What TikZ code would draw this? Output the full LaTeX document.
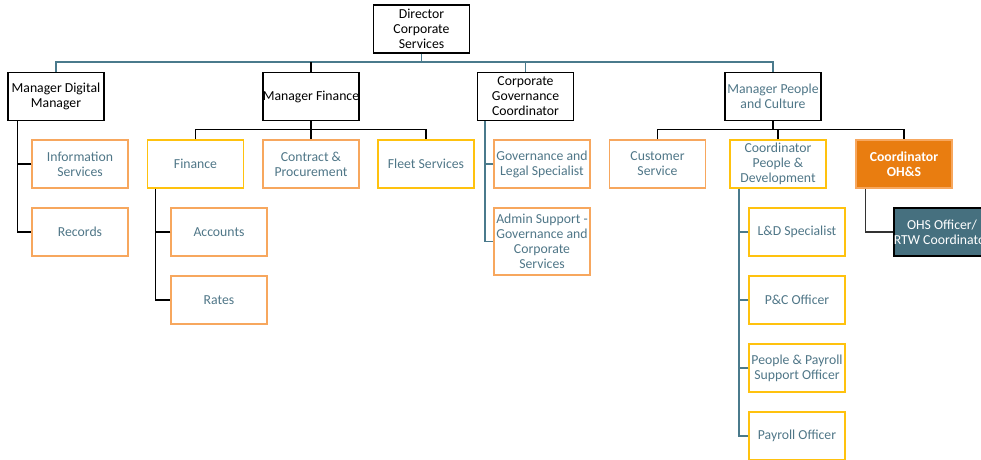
\documentclass[tikz,border=0pt]{standalone}
\usepackage{fontspec}
\setmainfont{Carlito}
\usetikzlibrary{calc}
\definecolor{tealline}{HTML}{4A7A8C}
\definecolor{tealtext}{HTML}{4F7687}
\definecolor{obord}{HTML}{F7A75E}
\definecolor{ybord}{HTML}{FFC20E}
\definecolor{ofill}{HTML}{E97D10}
\definecolor{dfill}{HTML}{46707F}
\tikzset{
  box/.style={draw, line width=1.1pt, minimum width=72pt, minimum height=36pt, inner sep=0pt, align=center, font=\fontsize{10.3}{11.3}\selectfont},
  head/.style={box, draw=black, text=black},
  ob/.style={box, draw=obord, text=tealtext},
  yb/.style={box, draw=ybord, text=tealtext},
  tl/.style={draw=tealline, line width=1.3pt},
  bl/.style={draw=black, line width=1pt},
}
\begin{document}
\begin{tikzpicture}[x=0.75pt,y=-0.75pt]
\useasboundingbox (0,0) rectangle (981,460);
\begin{scope}
\clip (0,0) rectangle (981,460);
% level 1
\node[head] (dir) at (421.5,29) {Director\\Corporate\\Services};
% level 2
\node[head] (mdm) at (56,96.5) {Manager Digital\\Manager};
\node[head] (mf) at (311,96.5) {Manager Finance};
\node[head] (cgc) at (525.5,96.5) {Corporate\\Governance\\Coordinator};
\node[head, text=tealtext] (mpc) at (773,96.5) {Manager People\\and Culture};
% digital
\node[ob] (info) at (80,164) {Information\\Services};
\node[ob] (rec) at (80,232) {Records};
% finance
\node[yb] (fin) at (195.5,164) {Finance};
\node[ob] (cp) at (311,164) {Contract \&\\Procurement};
\node[yb] (fleet) at (426,164) {Fleet Services};
\node[ob] (acc) at (219,232) {Accounts};
\node[ob] (rates) at (219,300) {Rates};
% governance
\node[ob] (gls) at (542,164) {Governance and\\Legal Specialist};
\node[ob, minimum height=50pt] (adm) at (542,241.5) {Admin Support -\\Governance and\\Corporate\\Services};
% people
\node[ob] (cs) at (657.5,164) {Customer\\Service};
\node[yb] (cpd) at (778,164) {Coordinator\\People \&\\Development};
\node[box, draw=obord, fill=ofill, text=white, font=\fontsize{10.3}{11.3}\selectfont\bfseries] (ohs) at (904,164) {Coordinator\\OH\&S};
\node[yb] (ld) at (797,232) {L\&D Specialist};
\node[yb] (pc) at (797,300) {P\&C Officer};
\node[yb] (ppo) at (797,368) {People \& Payroll\\Support Officer};
\node[yb] (po) at (797,436) {Payroll Officer};
\node[box, draw=black, fill=dfill, text=white] (ohso) at (942,232) {OHS Officer/\\RTW Coordinator};
% top bus
\coordinate (busL) at (56,62);
\coordinate (busR) at (773,62);
\draw[tl] (mdm.north) |- (busR) -- (mpc.north);
\draw[tl] (dir.south) -- (dir.south |- busL);
\draw[tl] (cgc.north) -- (cgc.north |- busL);
\draw[bl] (mf.north) -- (mf.north |- busL);
% digital
\coordinate (vd) at ($(mdm.south west)+(10,0)$);
\draw[bl] (vd) |- (rec.west);
\draw[bl] (info.west) -| (vd);
% finance
\draw[bl] (fin.north) -- ++(0,-10) -| (fleet.north);
\draw[bl] (mf.south) -- (cp.north);
\coordinate (vf) at ($(fin.south west)+(9,0)$);
\draw[bl] (vf) |- (rates.west);
\draw[bl] (acc.west) -| (vf);
% governance
\coordinate (vg) at ($(cgc.south west)+(8,0)$);
\draw[tl] (vg) |- (adm.west);
\draw[tl] (gls.west) -| (vg);
% people
\draw[bl] (cs.north) -- ++(0,-10) -| (ohs.north);
\draw[bl] (mpc.south) -- (mpc.south |- 0,130);
\draw[bl] (cpd.north) -- (cpd.north |- 0,130);
\coordinate (vp) at ($(cpd.south west)+(10,0)$);
\draw[tl] (vp) |- (po.west);
\draw[tl] (ld.west) -| (vp);
\draw[tl] (pc.west) -| (vp);
\draw[tl] (ppo.west) -| (vp);
\coordinate (vo) at ($(ohs.south west)+(10,0)$);
\draw[draw=black!80, line width=1pt] (vo) |- (ohso.west);
\end{scope}
\end{tikzpicture}
\end{document}
